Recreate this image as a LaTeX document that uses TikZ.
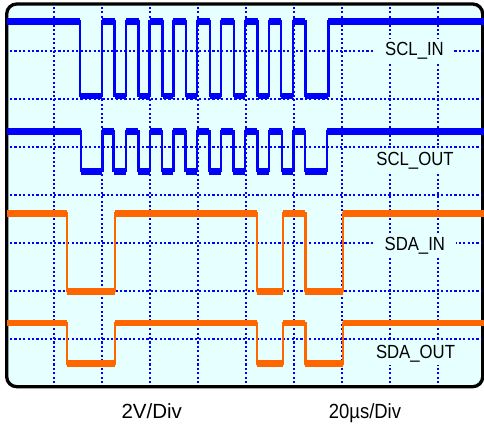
\documentclass[tikz,border=0pt]{standalone}
\usepackage{fontspec}
\setmainfont{Liberation Sans}
\definecolor{bg}{HTML}{E6FFFF}
\definecolor{scl}{HTML}{0000FF}
\definecolor{sda}{HTML}{FF6600}
\newcommand\mytrace[5]{%
  \draw[#1, edgeline] (7,#2) \foreach \a/\b in {#4} { -- (\a,#2) -- (\a,#3) -- (\b,#3) -- (\b,#2) } -- (484,#2);
  \foreach \a/\b in {#4} \draw[#1, band] (\a,#3) -- (\b,#3);
  \foreach \a/\b in {#5} \draw[#1, band] (\a,#2) -- (\b,#2);
}
\begin{document}
\begin{tikzpicture}[x=1pt,y=-1pt,
  gridline/.style={draw=scl, line width=2.1pt, dash pattern=on 2.1pt off 2.3pt},
  edgeline/.style={line width=2.4pt},
  band/.style={line width=6.8pt},
  lab/.style={fill=bg, inner xsep=12pt, inner ysep=3pt, text height=14pt, text depth=4pt,
    font=\fontsize{19}{19}\selectfont, xscale=0.88, anchor=base},
  axislab/.style={font=\fontsize{20.5}{20.5}\selectfont, anchor=base, inner sep=0pt}]
\path[use as bounding box] (0,0) rectangle (484,427);
% screen
\draw[line width=3.3pt, rounded corners=10pt, fill=bg] (6.7,4) rectangle (482.7,386.7);
% graticule
\foreach \k in {0,...,8} \draw[gridline] ({54.3+48*\k},7) -- ({54.3+48*\k},385);
\foreach \k in {0,...,6} \draw[gridline] (10,{51+48*\k}) -- (481,{51+48*\k});
% labels
\node[lab] (sclin) at (414.5,56) {SCL\_IN};
\node[lab] (sclout) at (415,165.5) {SCL\_OUT};
\node[lab] (sdain) at (414.8,250.5) {SDA\_IN};
\node[lab] (sdaout) at (415.5,358.3) {SDA\_OUT};
% traces
\mytrace{scl}{21.7}{96}
  {80/101.7, 114.5/126, 138.5/149.5, 162.5/173.3, 185.8/197, 210/221, 234/245, 257.5/268.7, 281/293, 305.3/328.3}
  {7/80, 101.7/114.5, 126/138.5, 149.5/162.5, 173.3/185.8, 197/210, 221/234, 245/257.5, 268.7/281, 293/305.3, 328.3/484}
\mytrace{scl}{131.3}{171.3}
  {81/102.3, 113.5/126, 138.3/150, 161.7/173.3, 185.5/196.7, 209.3/220.7, 233.3/245, 257.3/269, 281.7/293.3, 305/327}
  {7/81, 102.3/113.5, 126/138.3, 150/161.7, 173.3/185.5, 196.7/209.3, 220.7/233.3, 245/257.3, 269/281.7, 293.3/305, 327/484}
\mytrace{sda}{213.3}{291.2}
  {66.7/115, 257/282.7, 305.3/342.7}
  {7/66.7, 115/257, 282.7/305.3, 342.7/484}
\mytrace{sda}{323}{363.3}
  {66.7/115, 257/282.7, 305.3/342.7}
  {7/66.7, 115/257, 282.7/305.3, 342.7/484}
% scale labels
\node[axislab] (vdiv) at (151.7,418) {2V/Div};
\node[axislab, xscale=0.9] (tdiv) at (365,418) {20µs/Div};
\end{tikzpicture}
\end{document}
